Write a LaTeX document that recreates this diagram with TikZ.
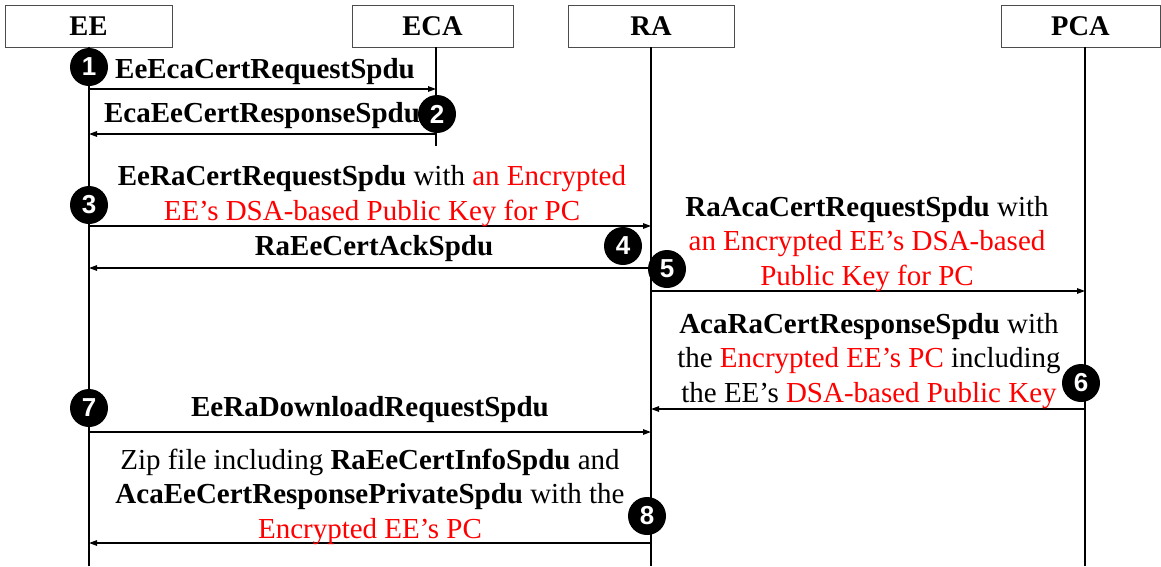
\documentclass[tikz,border=0pt]{standalone}
\usepackage{fontspec}
\setmainfont{Liberation Serif}
\newfontfamily\numfont{Liberation Sans}
\usetikzlibrary{arrows.meta}
\newcommand\rd[1]{\textcolor{red}{#1}}
\tikzset{
  actor/.style={draw=black!70, line width=1pt, minimum height=42pt, inner sep=0pt,
    font=\fontsize{28.5}{34}\selectfont\bfseries},
  life/.style={line width=1.8pt},
  msg/.style={line width=1.3pt, -{Triangle[length=8pt,width=5.5pt]}},
  lbl/.style={font=\fontsize{29}{34.5}\selectfont, align=center, anchor=base, inner sep=0pt},
  num/.style={circle, fill=black, minimum size=38pt, inner sep=0pt, text=white,
    font=\numfont\bfseries\fontsize{26}{26}\selectfont},
}
\begin{document}
\begin{tikzpicture}[x=1pt,y=-1pt]
\useasboundingbox (0,0) rectangle (1161,566);
% actors
\node[actor, minimum width=167pt] (ee)  at (88.5,26) {EE};
\node[actor, minimum width=161pt] (eca) at (432.5,26) {ECA};
\node[actor, minimum width=166pt] (ra)  at (651,26) {RA};
\node[actor, minimum width=159pt] (pca) at (1080.5,26) {PCA};
% lifeline ends
\coordinate (eeT) at (89,47);   \coordinate (eeB) at (89,566);
\coordinate (ecaT) at (436,47); \coordinate (ecaB) at (436,146);
\coordinate (raT) at (651,47);  \coordinate (raB) at (651,566);
\coordinate (pcaT) at (1085,47);\coordinate (pcaB) at (1085,566);
\draw[life] (eeT) -- (eeB);
\draw[life] (ecaT) -- (ecaB);
\draw[life] (raT) -- (raB);
\draw[life] (pcaT) -- (pcaB);
% message endpoints
\coordinate (m1a) at (89,89);   \coordinate (m1b) at (436,89);
\coordinate (m2a) at (436,134); \coordinate (m2b) at (89,134);
\coordinate (m3a) at (89,226);  \coordinate (m3b) at (651,226);
\coordinate (m4a) at (651,268); \coordinate (m4b) at (89,268);
\coordinate (m5a) at (651,291); \coordinate (m5b) at (1085,291);
\coordinate (m6a) at (1085,409);\coordinate (m6b) at (651,409);
\coordinate (m7a) at (89,432);  \coordinate (m7b) at (651,432);
\coordinate (m8a) at (651,543); \coordinate (m8b) at (89,543);
\foreach \i in {1,...,8} {\draw[msg] (m\i a) -- (m\i b);}
% step markers
\node[num] (c1) at (89,67) {1};
\node[num] (c2) at (437,114) {2};
\node[num] (c3) at (89,205) {3};
\node[num] (c4) at (623,246) {4};
\node[num] (c5) at (667,269) {5};
\node[num] (c6) at (1081,383) {6};
\node[num] (c7) at (89,408) {7};
\node[num] (c8) at (647,516) {8};
% labels (multi-line anchors sit about 10pt under the last baseline)
\node[lbl] (l1) at (265,78) {\textbf{EeEcaCertRequestSpdu}};
\node[lbl] (l2) at (262,122) {\textbf{EcaEeCertResponseSpdu}};
\node[lbl] (l3) at (372,220) {\textbf{EeRaCertRequestSpdu} with \rd{an Encrypted}\\ \rd{EE’s DSA-based Public Key for PC}};
\node[lbl] (l4) at (374,255) {\textbf{RaEeCertAckSpdu}};
\node[lbl] (l5) at (867,285) {\textbf{RaAcaCertRequestSpdu} with\\ \rd{an Encrypted EE’s DSA-based}\\ \rd{Public Key for PC}};
\node[lbl] (l6) at (869,402) {\textbf{AcaRaCertResponseSpdu} with\\ the \rd{Encrypted EE’s PC} including\\ the EE’s \rd{DSA-based Public Key}};
\node[lbl] (l7) at (370,416) {\textbf{EeRaDownloadRequestSpdu}};
\node[lbl] (l8) at (370,538) {Zip file including \textbf{RaEeCertInfoSpdu} and\\ \textbf{AcaEeCertResponsePrivateSpdu} with the\\ \rd{Encrypted EE’s PC}};
\end{tikzpicture}
\end{document}
